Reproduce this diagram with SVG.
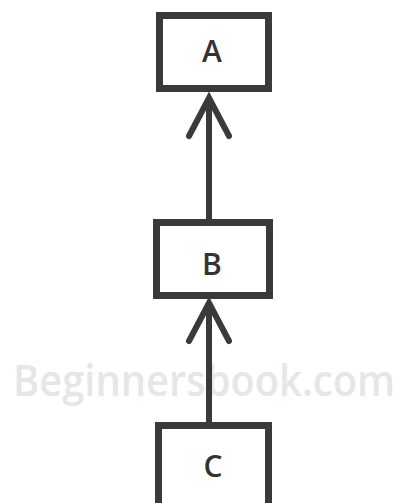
<svg xmlns="http://www.w3.org/2000/svg" width="403" height="503" viewBox="0 0 403 503">
<style>
.box{fill:#fff;stroke:#3a3a3a;stroke-width:7}
.lbl{font-family:"Open Sans","Liberation Sans",sans-serif;font-weight:600;font-size:30px;fill:#333;text-anchor:middle}
.edge{stroke:#3a3a3a;stroke-width:6;fill:none}
.head{stroke:#3a3a3a;stroke-width:6;fill:none;stroke-linecap:round;stroke-linejoin:miter}
.wm{font-family:"Open Sans","Liberation Sans",sans-serif;font-weight:600;font-size:44px;fill:#e6e6e6}
</style>
<rect width="403" height="503" fill="#fff"/>
<text class="wm" x="13" y="396" textLength="382" lengthAdjust="spacingAndGlyphs">Beginnersbook.com</text>
<g id="connectors">
<path class="edge" d="M209 219V97"/>
<path class="head" d="M189 136L209 98L229 136"/>
<path class="edge" d="M209 422V302"/>
<path class="head" d="M189 341L209 303L229 341"/>
</g>
<g id="A"><rect class="box" x="159.5" y="15.5" width="109" height="73"/><text class="lbl" x="212" y="62">A</text></g>
<g id="B"><rect class="box" x="156.5" y="222.5" width="113" height="73"/><text class="lbl" x="212" y="275">B</text></g>
<g id="C"><rect class="box" x="158.5" y="425.5" width="110" height="85"/><text class="lbl" x="213" y="477">C</text></g>
</svg>
